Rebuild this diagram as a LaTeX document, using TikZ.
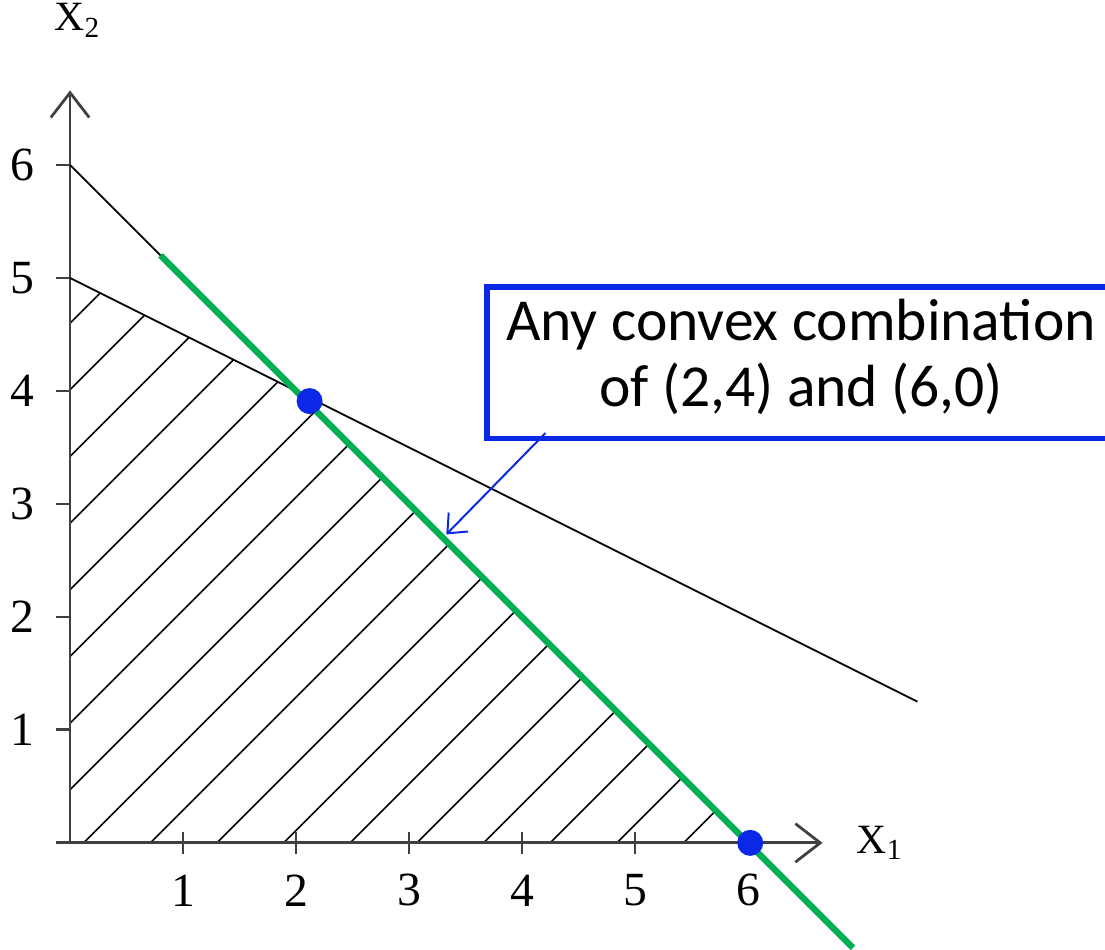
\documentclass[tikz,border=0pt]{standalone}
\usepackage{fontspec}
\setmainfont{Liberation Serif}
\newfontfamily\calloutfont{Carlito}
\usetikzlibrary{arrows.meta}
\definecolor{dotblue}{RGB}{10,40,230}
\definecolor{linegreen}{RGB}{0,176,80}

\begin{document}
\begin{tikzpicture}[
    axis/.style={line width=0.7pt, black!75},
    axisarrow/.style={-{Straight Barb[length=2.2mm,width=3.4mm]}},
    constraint/.style={line width=0.45pt},
    hatch/.style={line width=0.4pt},
    ticklabel/.style={font=\fontsize{12}{14}\selectfont},
    vertex/.style={circle, fill=dotblue, inner sep=0pt, minimum size=2.3mm},
    callout/.style={draw=dotblue, line width=1.3pt, align=center,
      minimum width=5.56cm, minimum height=1.34cm, inner sep=0pt, text depth=5pt,
      font=\calloutfont\fontsize{15}{16.5}\selectfont}
  ]
    \clip (-0.62,-0.94) rectangle (9.16,7.46);

    % Hachures de la region admissible
    \begin{scope}
      \clip (0,0) -- (0,5) -- (2,4) -- (6,0) -- cycle;
      \foreach \k in {0,...,17}
        \draw[hatch] (-1,{3.6-0.59*\k}) -- (7,{11.6-0.59*\k});
    \end{scope}

    % Axes
    \draw[axis, axisarrow] (-0.12,0) -- (6.66,0);
    \draw[axis, axisarrow] (0,0) -- (0,6.66);
    \node[font=\fontsize{10.5}{12}\selectfont] (xone) at (7.17,0) {X\textsubscript{1}};
    \node[font=\fontsize{10.5}{12}\selectfont] (xtwo) at (0.07,7.28) {X\textsubscript{2}};

    % Graduations
    \foreach \i in {1,...,6} {
      \draw[axis] (\i,-0.1) -- (\i,0.1);
      \node[ticklabel] (tx\i) at (\i,-0.42) {\i};
      \draw[axis] (-0.12,\i) -- (0,\i);
      \node[ticklabel] (ty\i) at (-0.42,\i) {\i};
    }

    % Contraintes
    \draw[constraint] (0,6) -- (6,0);
    \draw[constraint] (0,5) -- (7.5,1.25);

    % Segment optimal
    \coordinate (gstart) at (0.8,5.2);
    \coordinate (gend) at (6.93,-0.93);
    \draw[linegreen, line width=1.6pt] (gstart) -- (gend);

    \node[vertex] (p24) at (2.12,3.91) {};
    \node[vertex] (p60) at (6.02,0) {};

    % Commentaire
    \node[callout] (note) at (6.47,4.25) {Any convex combination\\of (2,4) and (6,0)};
    \coordinate (tgt) at (3.33,2.73);
    \draw[dotblue, line width=0.5pt, -{Straight Barb[length=1.4mm,width=2.4mm]}]
      ([shift={(0.54,0.07)}]note.south west) -- (tgt);

  \end{tikzpicture}
\end{document}
